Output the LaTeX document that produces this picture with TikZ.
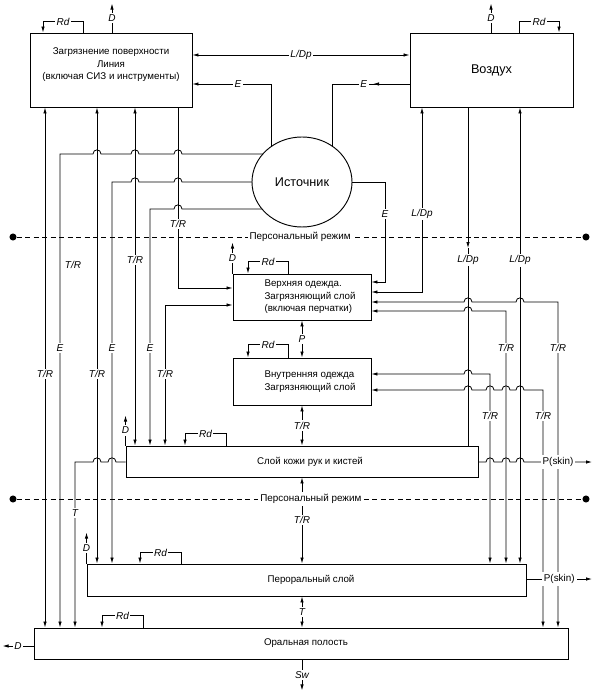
\documentclass[tikz,border=0pt]{standalone}
\usepackage{fontspec}
\setmainfont{Liberation Sans}
\usetikzlibrary{arrows.meta,shapes.geometric,backgrounds}
\newcommand\hopL[2]{-- ({#1+4},#2) .. controls ({#1+4},{#2-5.5}) and ({#1-4},{#2-5.5}) .. ({#1-4},#2)}
\newcommand\hopR[2]{-- ({#1-4},#2) .. controls ({#1-4},{#2-5.5}) and ({#1+4},{#2-5.5}) .. ({#1+4},#2)}
\tikzset{
  ln/.style={line width=0.6pt},
  arr/.style={ln,-{Latex[length=4.5pt,width=2.6pt]}},
  arrs/.style={ln,{Latex[length=4.5pt,width=2.6pt]}-{Latex[length=4.5pt,width=2.6pt]}},
  box/.style={draw,line width=0.7pt,inner sep=2pt,font=\fontsize{7.3}{9.4}\selectfont,align=center},
  lbl/.style={fill=white,inner sep=1.2pt,font=\fontsize{7.5}{9}\selectfont\itshape},
  plbl/.style={fill=white,inner sep=1.5pt,font=\fontsize{7.4}{9}\selectfont},
  dot/.style={circle,fill,inner sep=0pt,minimum size=5.3pt},
  pers/.style={ln,dash pattern=on 3.75pt off 2.6pt},
}
\begin{document}
\begin{tikzpicture}[x=0.75pt,y=-0.75pt]
\useasboundingbox (0,0) rectangle (597,695);

% boxes
\node[box,minimum width=121.5pt,minimum height=55.5pt] (surf) at (111,70) {Загрязнение поверхности\\Линия\\(включая СИЗ и инструменты)\\\mbox{}};
\node[box,minimum width=122.25pt,minimum height=55.5pt,font=\fontsize{9.5}{11}\selectfont] (air) at (491.5,70) {Воздух};
\node[draw,ellipse,line width=0.7pt,fill=white,minimum width=75pt,minimum height=67.5pt,inner sep=0pt,font=\fontsize{9.5}{11}\selectfont] (src) at (302,182) {Источник};
\node[box,minimum width=103.5pt,minimum height=34.5pt,align=left] (upc) at (302,297) {\hspace*{12pt}Верхняя одежда.\\\hspace*{12pt}Загрязняющий слой\\\hspace*{12pt}(включая перчатки)};
\node[box,minimum width=103.5pt,minimum height=35.25pt,align=left] (inc) at (302,381.5) {\hspace*{12pt}Внутренняя одежда\\\hspace*{12pt}Загрязняющий слой};
\node[box,minimum width=264pt,minimum height=23.25pt] (skin) at (302,461.5) {\hspace*{12pt}Слой кожи рук и кистей};
\node[box,minimum width=329.25pt,minimum height=24pt] (peri) at (306.5,580) {\hspace*{6.75pt}Пероральный слой};
\node[box,minimum width=400.5pt,minimum height=23.25pt] (oral) at (301,643.5) {\hspace*{7.5pt}Оральная полость};

% connectors leaving the source (under the ellipse)
\begin{scope}[on background layer]
\draw[arr] (src.center -| 271,0) |- node[lbl,pos=0.71]{E} (surf.east |- 0,84);
\draw[ln] (src.center -| 332,0) |- node[lbl,pos=0.705]{E} (air.west |- 0,84);
\draw[arr] (src.center) -- (385,182) -- node[lbl,pos=0.32]{E} (385,282) -- (upc.east |- 0,282);
\draw[arr] (src.center |- 0,154) \hopL{178}{154} \hopL{135}{154} \hopL{97}{154} -- (60,154) -- node[lbl,pos=0.409]{E} (oral.north -| 60,0);
\draw[arr] (src.center) \hopL{178}{182} \hopL{135}{182} -- (112,182) -- node[lbl,pos=0.435]{E} (peri.north -| 112,0);
\draw[arr] (src.center |- 0,209) \hopL{178}{209} -- (150,209) -- node[lbl,pos=0.586]{E} (skin.north -| 150,0);
\end{scope}
\draw[arr] (air.west |- 0,84) -- (373,84);

% top
\draw[arr] (surf.north -| 83,0) -- ++(0,-11) -| node[lbl,pos=0.25]{Rd} (surf.north -| 43,0);
\draw[arr] (surf.north -| 112,0) -- node[lbl]{D} ++(0,-29);
\draw[arr] (air.north -| 491,0) -- node[lbl]{D} ++(0,-29);
\draw[arr] (air.north -| 519,0) -- ++(0,-11) -| node[lbl,pos=0.25]{Rd} (air.north -| 559,0);
\draw[arrs] (surf.east |- 0,55) -- node[lbl]{L/Dp} (air.west |- 0,55);

% right side
\draw[arrs] (air.south -| 422,0) |- node[lbl,pos=0.289]{L/Dp} (upc.east |- 0,292);
\draw[arr] (air.south -| 468,0) -- (468,248);
\draw[ln] (468,248) -- node[lbl,pos=0.061]{L/Dp} (skin.north -| 468,0);
\draw[arrs] (air.south -| 520,0) -- node[lbl,pos=0.335]{L/Dp} (peri.north -| 520,0);
\draw[arrs] (oral.north -| 558,0) -- node[lbl,pos=0.859]{T/R} (558,302) \hopL{520}{302} \hopL{468}{302} -- (upc.east |- 0,302);
\draw[arrs] (peri.north -| 506,0) -- node[lbl,pos=0.854]{T/R} (506,311) \hopL{468}{311} -- (upc.east |- 0,311);
\draw[arrs] (peri.north -| 490,0) -- node[lbl,pos=0.779]{T/R} (490,374) \hopL{468}{374} -- (inc.east |- 0,374);
\draw[arrs] (oral.north -| 543,0) -- node[lbl,pos=0.891]{T/R} (543,390) \hopL{520}{390} \hopL{506}{390} \hopL{490}{390} \hopL{468}{390} -- (inc.east |- 0,390);
\draw[arr] (skin.east |- 0,462) \hopR{490}{462} \hopR{506}{462} \hopR{520}{462} -- node[plbl]{P(skin)} (592,462);
\draw[arr] (peri.east |- 0,579) -- node[plbl]{P(skin)} (592,579);

% left side
\draw[arrs] (oral.north -| 45,0) -- node[lbl,pos=0.4875]{T/R} (surf.south -| 45,0);
\node[lbl,fill=none] (trx) at (73,265) {T/R};
\draw[arrs] (peri.north -| 97,0) -- node[lbl,pos=0.416]{T/R} (surf.south -| 97,0);
\draw[arrs] (skin.north -| 135,0) -- node[lbl,pos=0.549]{T/R} (surf.south -| 135,0);
\draw[arr] (surf.south -| 178,0) |- node[lbl,pos=0.323]{T/R} (upc.west |- 0,288);
\draw[arrs] (skin.north -| 165,0) |- node[lbl,pos=0.255]{T/R} (upc.west |- 0,305);
\draw[arr] (skin.west |- 0,462) \hopL{112}{462} \hopL{97}{462} -- (75,462) -- node[lbl,pos=0.307]{T} (oral.north -| 75,0);

% centre column
\draw[arr] (upc.north west) -- node[lbl]{D} ++(0,-31);
\draw[arr] (upc.north -| 288,0) -- ++(0,-12) -| node[lbl,pos=0.25]{Rd} (upc.north -| 248,0);
\draw[arrs] (upc.south) -- node[lbl]{P} (inc.north);
\draw[arr] (inc.north -| 288,0) -- ++(0,-13) -| node[lbl,pos=0.25]{Rd} (inc.north -| 248,0);
\draw[arrs] (inc.south) -- node[lbl]{T/R} (skin.north -| inc.south);
\draw[arr] (skin.north west) -- node[lbl]{D} ++(0,-30);
\draw[arr] (skin.north -| 226,0) -- ++(0,-12) -| node[lbl,pos=0.25]{Rd} (skin.north -| 185,0);
\draw[arrs] (skin.south -| 302,0) -- node[lbl,pos=0.494]{T/R} (peri.north -| 302,0);
\draw[arr] (peri.north west) -- node[lbl]{D} ++(0,-31);
\draw[arr] (peri.north -| 181,0) -- ++(0,-11) -| node[lbl,pos=0.25]{Rd} (peri.north -| 140,0);
\draw[arrs] (peri.south -| 302,0) -- node[lbl]{T} (oral.north -| 302,0);
\draw[arr] (oral.north -| 143,0) -- ++(0,-12) -| node[lbl,pos=0.25]{Rd} (oral.north -| 102,0);
\draw[arr] (oral.west |- 0,646) -- node[lbl]{D} ++(-31,0);
\draw[arr] (oral.south -| 302,0) -- node[lbl]{Sw} ++(0,31);

% personal-mode lines
\node[dot] (pl1) at (13,237) {};
\node[dot] (pr1) at (586,237) {};
\draw[pers] (pl1) -- node[plbl,pos=0.501]{Персональный режим} (pr1);
\node[dot] (pl2) at (13,499) {};
\node[dot] (pr2) at (586,499) {};
\draw[pers] (pl2) -- node[plbl,pos=0.52]{Персональный режим} (pr2);
\end{tikzpicture}
\end{document}
